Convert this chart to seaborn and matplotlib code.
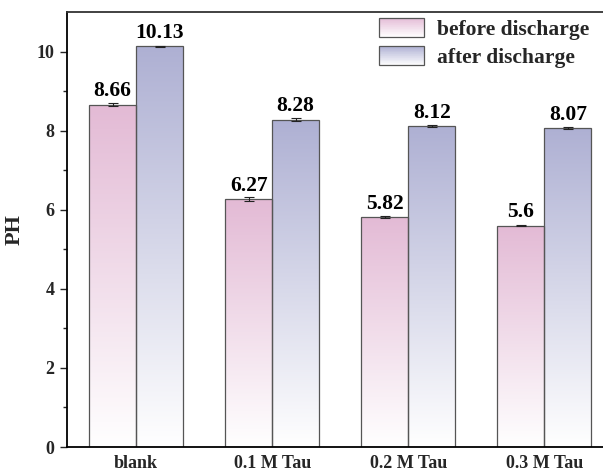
import numpy as np
import pandas as pd
import matplotlib
matplotlib.use("Agg")
import matplotlib.pyplot as plt
import seaborn as sns
from matplotlib.patches import Rectangle
from matplotlib.legend_handler import HandlerBase
from matplotlib.colors import to_rgb

# ---- data ----
groups = ["blank", "0.1 M Tau", "0.2 M Tau", "0.3 M Tau"]
series = ["before discharge", "after discharge"]
ph_before = [8.66, 6.27, 5.82, 5.60]
ph_after = [10.13, 8.28, 8.12, 8.07]
err_before = [0.03, 0.04, 0.03, 0.02]
err_after = [0.02, 0.04, 0.02, 0.03]

top_colors = ["#E3BAD5", "#AEB0D3"]
edge_color = "#555555"

df = pd.DataFrame({
    "group": groups * 2,
    "state": [series[0]] * len(groups) + [series[1]] * len(groups),
    "ph": ph_before + ph_after,
})

sns.set_style("ticks")
plt.rcParams["font.family"] = ["Liberation Serif", "DejaVu Serif"]
plt.rcParams["font.weight"] = "bold"

fig = plt.figure(figsize=(6.03, 4.73), dpi=100)
ax = fig.add_axes([67 / 603, 26 / 473, 1 - 67 / 603 + 0.02, (447 - 12) / 473])

sns.barplot(data=df, x="group", y="ph", hue="state", order=groups,
            hue_order=series, palette=top_colors, width=0.69,
            edgecolor=edge_color, linewidth=0.9, errorbar=None,
            legend=False, ax=ax)


def gradient_fill(ax, patch, color):
    """Replace a bar's flat fill with a vertical fade from color (top) to white (bottom)."""
    x0, y0 = patch.get_x(), patch.get_y()
    w, h = patch.get_width(), patch.get_height()
    top = np.array(to_rgb(color))
    t = np.linspace(0, 1, 256)[:, None]  # 0 at top row, 1 at bottom row
    rgb = top[None, :] * (1 - t) + np.ones(3)[None, :] * t
    img = rgb[:, None, :]
    im = ax.imshow(img, extent=[x0, x0 + w, y0, y0 + h], origin="upper",
                   aspect="auto", interpolation="bilinear", zorder=patch.get_zorder() - 0.1)
    im.set_clip_path(patch)
    patch.set_facecolor("none")


errs = [err_before, err_after]
bar_containers = list(ax.containers)
for k, cont in enumerate(bar_containers):
    for j, bar in enumerate(cont.patches):
        gradient_fill(ax, bar, top_colors[k])
        xc = bar.get_x() + bar.get_width() / 2
        val = bar.get_height()
        ax.errorbar(xc, val, yerr=errs[k][j], fmt="none", ecolor="#222222",
                    elinewidth=0.8, capsize=3.5, capthick=0.8, zorder=5)
        ax.text(xc, val + 0.08, f"{val:g}", ha="center", va="bottom",
                fontsize=15.5, fontweight="bold", color="black")

ax.set_xlim(-0.508, 3.52)
ax.set_ylim(0, 11)
ax.set_yticks([0, 2, 4, 6, 8, 10])
ax.set_yticks([1, 3, 5, 7, 9], minor=True)
ax.set_xlabel("")
ax.set_ylabel("PH", fontsize=16, fontweight="bold", labelpad=9)
ax.tick_params(axis="y", which="major", length=5, width=1.0, labelsize=13, pad=4)
ax.tick_params(axis="y", which="minor", length=3, width=1.0)
ax.tick_params(axis="x", length=0, labelsize=13, pad=6)
for lab in ax.get_xticklabels() + ax.get_yticklabels():
    lab.set_fontweight("bold")

for side in ["left", "bottom"]:
    ax.spines[side].set_linewidth(1.3)
    ax.spines[side].set_color("black")
ax.spines["top"].set_visible(True)
ax.spines["top"].set_linewidth(1.3)
ax.spines["top"].set_color("#333333")
ax.spines["right"].set_visible(False)


class GradientHandler(HandlerBase):
    def __init__(self, color, n=30):
        super().__init__()
        self.color = np.array(to_rgb(color))
        self.n = n

    def create_artists(self, legend, orig_handle, xdescent, ydescent,
                       width, height, fontsize, trans):
        arts = []
        x0, y0 = -xdescent, -ydescent
        dh = height / self.n
        for i in range(self.n):
            f = (i + 0.5) / self.n  # 0 bottom -> 1 top
            c = 1 - (1 - self.color) * f
            arts.append(Rectangle((x0, y0 + i * dh), width, dh * 1.05,
                                  facecolor=c, edgecolor="none", transform=trans))
        arts.append(Rectangle((x0, y0), width, height, fill=False,
                              edgecolor=edge_color, linewidth=0.9, transform=trans))
        return arts


handles = [Rectangle((0, 0), 1, 1) for _ in series]
leg = fig.legend(handles, series, loc="upper left",
                 bbox_to_anchor=(370 / 603, 1 - 9 / 473),
                 borderaxespad=0.0,
                 frameon=False, handlelength=2.1, handleheight=1.0,
                 handletextpad=0.6, labelspacing=0.3,
                 prop={"weight": "bold", "size": 15.5},
                 handler_map={handles[0]: GradientHandler(top_colors[0]),
                              handles[1]: GradientHandler(top_colors[1])})

fig.savefig("out.png", dpi=100)
